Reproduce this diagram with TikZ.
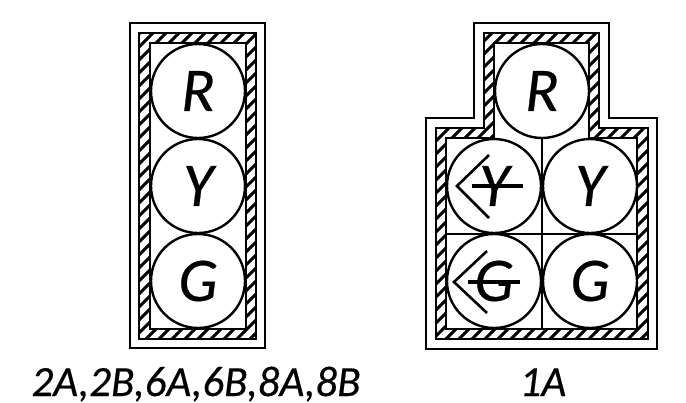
\documentclass[tikz,border=0pt]{standalone}
\usepackage{fontspec}
\setmainfont{Carlito}
\newfontfamily\heavyital[ItalicFont={Carlito Italic},ItalicFeatures={FakeBold=0.4}]{Carlito}
\tikzset{
  wall/.style={draw=black,line width=2.8pt,line join=miter},
  hatchline/.style={draw=black,line width=3pt},
  lamp/.style={circle,draw=black,line width=2.4pt,minimum size=94pt,inner sep=0pt,font=\fontsize{62}{62}\selectfont\heavyital\itshape},
  caption/.style={font=\fontsize{43}{43}\selectfont\heavyital\itshape,inner sep=0pt,anchor=base},
  divider/.style={draw=black,line width=2.4pt},
  arrowmark/.style={draw=black,line width=2.6pt},
  barmark/.style={draw=black,line width=4pt}
}
\begin{document}
\begin{tikzpicture}[x=1pt,y=-1pt]
\useasboundingbox (0,0) rectangle (686,402);
% left head hatching
\begin{scope}
  \clip (139,33) rectangle (256,339);
  \foreach \k in {-26,...,34} {
    \draw[hatchline] ({139+\k*13-12},345) -- ({139+\k*13+315-12},30);
  }
\end{scope}
\fill[white] (150,43) rectangle (246,329);
% right head hatching
\begin{scope}
  \clip (484,33) -- (599,33) -- (599,128) -- (648,128) -- (648,339) -- (436,339) -- (436,128) -- (484,128) -- cycle;
  \foreach \k in {-26,...,34} {
    \draw[hatchline] ({436+\k*13-9},345) -- ({436+\k*13+315-9},30);
  }
\end{scope}
\fill[white] (494,43) -- (589,43) -- (589,138) -- (637,138) -- (637,329) -- (446,329) -- (446,138) -- (494,138) -- cycle;
% left head walls
\draw[wall] (130,23) rectangle (265,348);
\draw[wall] (139,33) rectangle (256,339);
\draw[wall] (150,43) rectangle (246,329);
% right head walls
\draw[wall] (474,23) -- (609,23) -- (609,118) -- (657,118) -- (657,349) -- (426,349) -- (426,118) -- (474,118) -- cycle;
\draw[wall] (484,33) -- (599,33) -- (599,128) -- (648,128) -- (648,339) -- (436,339) -- (436,128) -- (484,128) -- cycle;
\draw[wall] (494,43) -- (589,43) -- (589,138) -- (637,138) -- (637,329) -- (446,329) -- (446,138) -- (494,138) -- cycle;
\coordinate (vtop) at (542,138);
\coordinate (vbot) at (542,329);
\coordinate (hleft) at (446,234);
\coordinate (hright) at (637,234);
\draw[divider] (vtop) -- (vbot);
\draw[divider] (hleft) -- (hright);
% lamps
\node[lamp] (l1) at (198,91) {R};
\node[lamp] (l2) at (198,186) {Y};
\node[lamp] (l3) at (198,281) {G};
\node[lamp] (r1) at (542,91) {R};
\node[lamp] (r2) at (494,186) {Y};
\node[lamp] (r3) at (590,186) {Y};
\node[lamp] (r4) at (494,281) {G};
\node[lamp] (r5) at (590,281) {G};
% turn arrows
\draw[arrowmark] (489,155) -- (457,186) -- (489,218);
\draw[barmark] (472,186) -- (523,186);
\draw[arrowmark] (487,251) -- (454,282) -- (487,313);
\draw[barmark] (468,282) -- (520,282);
% captions
\node[caption] (c1) at (196,396) {2A,2B,6A,6B,8A,8B};
\node[caption] (c2) at (543,396) {1A};
\end{tikzpicture}
\end{document}
